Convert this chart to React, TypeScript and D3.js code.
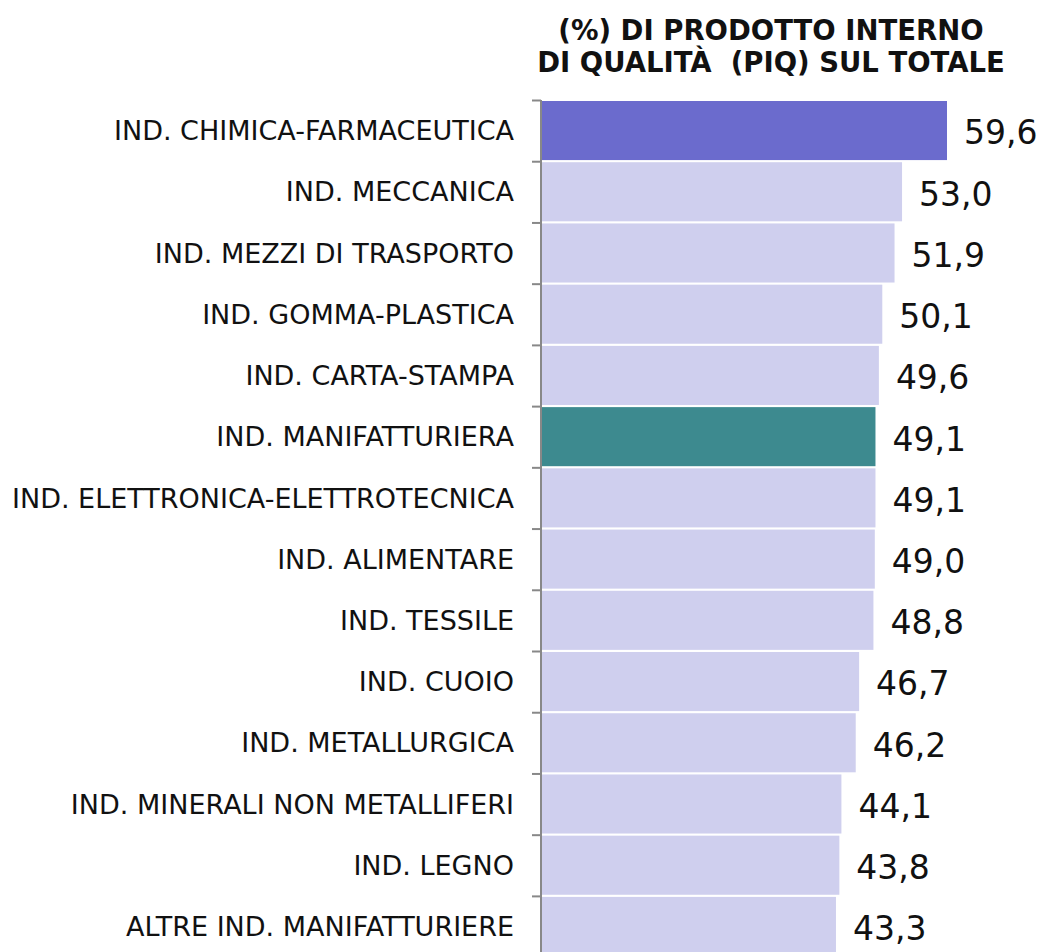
import React from "react";
import * as d3 from "d3";

const categories = [
  "IND. CHIMICA-FARMACEUTICA",
  "IND. MECCANICA",
  "IND. MEZZI DI TRASPORTO",
  "IND. GOMMA-PLASTICA",
  "IND. CARTA-STAMPA",
  "IND. MANIFATTURIERA",
  "IND. ELETTRONICA-ELETTROTECNICA",
  "IND. ALIMENTARE",
  "IND. TESSILE",
  "IND. CUOIO",
  "IND. METALLURGICA",
  "IND. MINERALI NON METALLIFERI",
  "IND. LEGNO",
  "ALTRE IND. MANIFATTURIERE",
];
const values = [59.6, 53.0, 51.9, 50.1, 49.6, 49.1, 49.1, 49.0, 48.8, 46.7, 46.2, 44.1, 43.8, 43.3];
const highlight = ["top", "", "", "", "", "total", "", "", "", "", "", "", "", ""];
const titleLines = ["(%) DI PRODOTTO INTERNO", "DI QUALITÀ  (PIQ) SUL TOTALE"];

const colorFor = (h: string) => (h === "top" ? "#6B6BCD" : h === "total" ? "#3D8A8F" : "#CFCFEE");

export default function App() {
  const W = 1041, H = 952;
  const x0 = 541;
  const x = d3.scaleLinear().domain([0, 59.6]).range([x0, 947]);
  const y = d3.scaleBand<string>().domain(categories).range([101, 101 + 14 * 61.07]).paddingInner(0.035).paddingOuter(0);
  const step = y.step();
  const font = "Tahoma, 'DejaVu Sans', sans-serif";
  return (
    <svg width={W} height={H} style={{ position: "absolute", left: 0, top: 0, background: "#fff" }}>
      {titleLines.map((t, i) => (
        <text key={i} x={771} y={40 + i * 32} textAnchor="middle" fontFamily={font} fontWeight="bold" fontSize={27.5} fill="#111" style={{ whiteSpace: "pre" }}>
          {t}
        </text>
      ))}
      {categories.map((c, i) => (
        <g key={c}>
          <rect x={x0} y={y(c)!} width={x(values[i]) - x0} height={y.bandwidth()} fill={colorFor(highlight[i])} />
          <text x={514} y={y(c)! + y.bandwidth() / 2} dy="0.36em" textAnchor="end" fontFamily={font} fontSize={27} fill="#111">
            {c}
          </text>
          <text x={x(values[i]) + 17} y={y(c)! + y.bandwidth() / 2 + 2} dy="0.36em" fontFamily={font} fontSize={33} fill="#111">
            {d3.format(".1f")(values[i]).replace(".", ",")}
          </text>
        </g>
      ))}
      <line x1={x0} x2={x0} y1={100} y2={H} stroke="#888" strokeWidth={2} />
      {d3.range(15).map((k) => (
        <line key={k} x1={532} x2={x0} y1={101 + k * step - 0.5} y2={101 + k * step - 0.5} stroke="#888" strokeWidth={2} />
      ))}
    </svg>
  );
}
